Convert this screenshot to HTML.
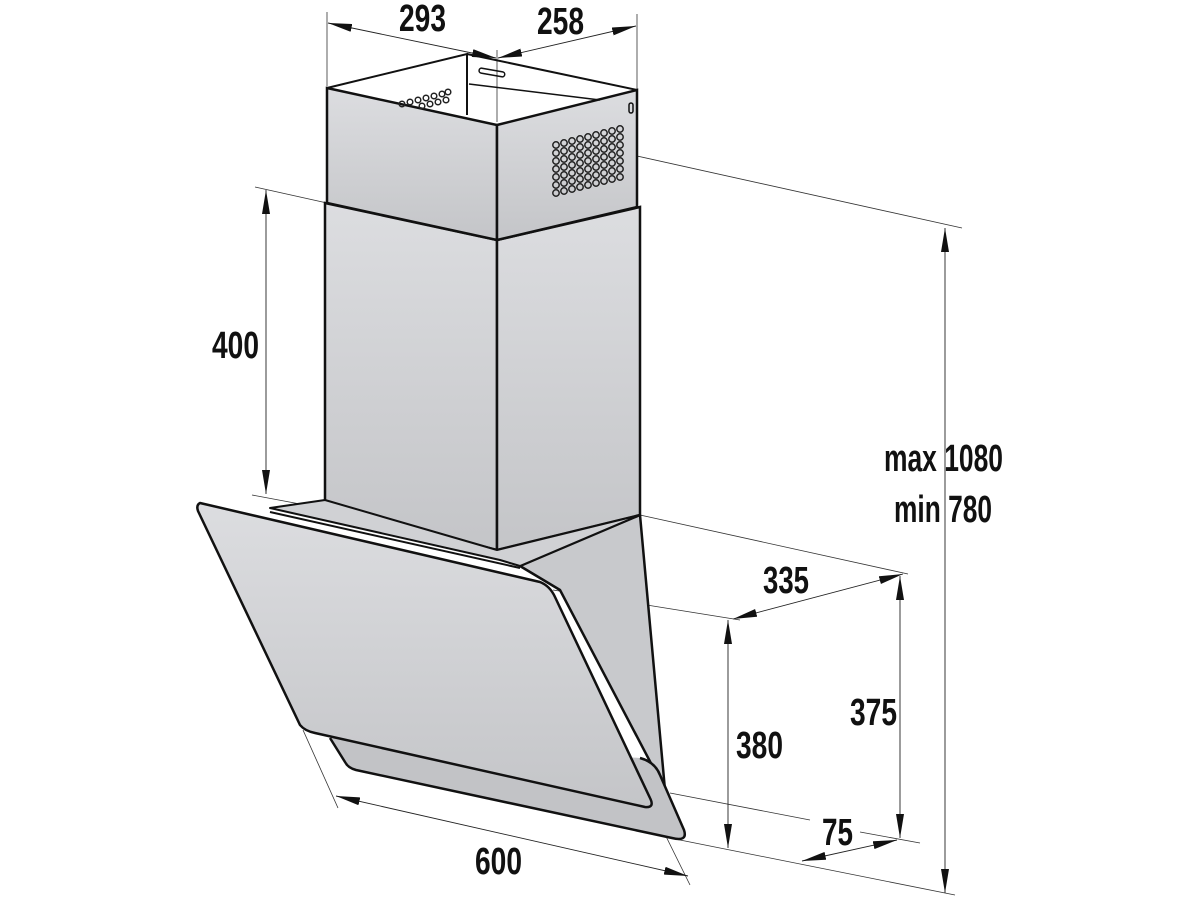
<!DOCTYPE html>
<html><head><meta charset="utf-8"><style>
html,body{margin:0;padding:0;background:#fff;}
svg{display:block}
text{font-family:"Liberation Sans",sans-serif;font-size:38px;font-weight:bold;fill:#111;}
</style></head><body>
<svg width="1200" height="900" viewBox="0 0 1200 900" xmlns="http://www.w3.org/2000/svg">
<defs>
<marker id="a" viewBox="0 0 24 8" refX="24" refY="4" markerWidth="24" markerHeight="8" markerUnits="userSpaceOnUse" orient="auto-start-reverse">
<path d="M0,0 L24,4 L0,8 Z" fill="#111"/></marker>
<linearGradient id="g" x1="0" y1="0" x2="0" y2="1"><stop offset="0" stop-color="#dcdde0"/><stop offset="1" stop-color="#c4c5c8"/></linearGradient>
</defs>

<g stroke="#333" stroke-width="0.8" fill="none">
<line x1="327" y1="12" x2="327" y2="86"/>
<line x1="497" y1="50" x2="497" y2="122"/>
<line x1="637" y1="14" x2="637" y2="90"/>
<line x1="497" y1="125" x2="962" y2="228"/>
<line x1="255" y1="187" x2="327" y2="203"/>
<line x1="252" y1="495" x2="300" y2="504"/>
<line x1="640" y1="515" x2="908" y2="574"/>
<line x1="553" y1="590" x2="740" y2="620"/>
<line x1="670" y1="793" x2="810" y2="820"/>
<line x1="860" y1="832" x2="920" y2="843"/>
<line x1="665" y1="837" x2="955" y2="895"/>
<line x1="303" y1="730" x2="338" y2="808"/>
<line x1="652" y1="808" x2="690" y2="885"/>
</g>

<polygon points="325,203 497,240 497,550 325,507" fill="url(#g)" stroke="#111" stroke-width="2.5"/>
<polygon points="497,240 640,207 640,515 497,550" fill="url(#g)" stroke="#111" stroke-width="2.5"/>
<polygon points="640,515 665,790 560,590 520,566" fill="#c8c9cc" stroke="#111" stroke-width="2.5" stroke-linejoin="round"/>
<polygon points="270,508 325,500 497,550 640,515 520,566 500,560" fill="#d0d1d4" stroke="#111" stroke-width="2" stroke-linejoin="round"/>
<path d="M330,738 L345,762 Q348,768 356,770 L672,838 Q688,842 684,830 L660,775 Q655,762 640,758" fill="#c2c3c6" stroke="#111" stroke-width="2.5" stroke-linejoin="round"/>
<path d="M200,503 Q196,505 198,511 L300,725 Q305,731 315,733 L645,807 Q655,808 650,798 L555,597 Q550,586 540,582 Z" fill="url(#g)" stroke="#111" stroke-width="2.5" stroke-linejoin="round"/>
<line x1="270" y1="512" x2="520" y2="568" stroke="#111" stroke-width="2"/>
<polygon points="327,88 497,125 497,240 327,203" fill="url(#g)" stroke="#111" stroke-width="2.5"/>
<polygon points="497,125 637,90 637,207 497,240" fill="url(#g)" stroke="#111" stroke-width="2.5"/>
<polyline points="327,88 467,54 467,115" fill="none" stroke="#111" stroke-width="2"/>
<polyline points="467,54 637,90" fill="none" stroke="#111" stroke-width="2"/>
<line x1="469" y1="84" x2="600" y2="100" stroke="#111" stroke-width="1.5"/>
<rect x="479" y="70" width="26" height="5" rx="2.5" fill="none" stroke="#111" stroke-width="1.5" transform="rotate(10 492 72)"/>
<rect x="629" y="103" width="4" height="10" rx="2" fill="none" stroke="#111" stroke-width="1.5"/>
<g fill="none" stroke="#222" stroke-width="1.5">
<g id="gr">
<circle cx="556" cy="145" r="3.2"/><circle cx="564" cy="143" r="3.2"/><circle cx="572" cy="141" r="3.2"/><circle cx="580" cy="139" r="3.2"/><circle cx="588" cy="137" r="3.2"/><circle cx="596" cy="135" r="3.2"/><circle cx="604" cy="133" r="3.2"/><circle cx="612" cy="131" r="3.2"/><circle cx="620" cy="129" r="3.2"/>
</g>
<use href="#gr" y="8"/><use href="#gr" y="16"/><use href="#gr" y="24"/><use href="#gr" y="32"/><use href="#gr" y="40"/><use href="#gr" y="48"/>
<circle cx="402" cy="104" r="2.8"/><circle cx="410" cy="102" r="2.8"/><circle cx="418" cy="100" r="2.8"/><circle cx="426" cy="98" r="2.8"/><circle cx="434" cy="96" r="2.8"/><circle cx="442" cy="94" r="2.8"/><circle cx="448" cy="92" r="2.8"/>
<circle cx="422" cy="106" r="2.8"/><circle cx="430" cy="104" r="2.8"/><circle cx="438" cy="102" r="2.8"/><circle cx="446" cy="100" r="2.8"/>
</g>

<g stroke="#222" stroke-width="0.9" fill="none" marker-start="url(#a)" marker-end="url(#a)">
<line x1="328" y1="23" x2="496" y2="58"/>
<line x1="498" y1="58" x2="636" y2="26"/>
<line x1="266" y1="190" x2="266" y2="494"/>
<line x1="945" y1="228" x2="945" y2="893"/>
<line x1="733" y1="619" x2="903" y2="574"/>
<line x1="728" y1="620" x2="728" y2="848"/>
<line x1="900" y1="576" x2="900" y2="838"/>
<line x1="802" y1="861" x2="897" y2="840"/>
<line x1="336" y1="796" x2="688" y2="876"/>
</g>

<text x="399" y="31" textLength="47" lengthAdjust="spacingAndGlyphs">293</text>
<text x="537" y="34" textLength="47" lengthAdjust="spacingAndGlyphs">258</text>
<text x="212" y="358" textLength="47" lengthAdjust="spacingAndGlyphs">400</text>
<text x="884" y="471" textLength="119" lengthAdjust="spacingAndGlyphs">max 1080</text>
<text x="894" y="522" textLength="98" lengthAdjust="spacingAndGlyphs">min 780</text>
<text x="763" y="593" textLength="46" lengthAdjust="spacingAndGlyphs">335</text>
<text x="850" y="725" textLength="47" lengthAdjust="spacingAndGlyphs">375</text>
<text x="736" y="758" textLength="47" lengthAdjust="spacingAndGlyphs">380</text>
<text x="822" y="845" textLength="31" lengthAdjust="spacingAndGlyphs">75</text>
<text x="475" y="874" textLength="47" lengthAdjust="spacingAndGlyphs">600</text>
</svg>
</body></html>
